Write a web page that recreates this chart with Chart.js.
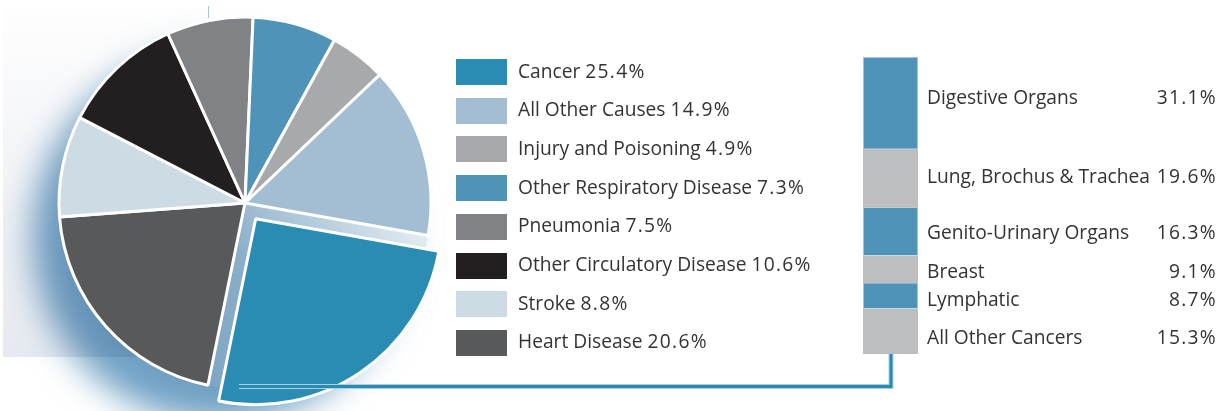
<!DOCTYPE html>
<html lang="en">
<head>
<meta charset="UTF-8">
<title>Causes of Death</title>
<script src="https://cdn.jsdelivr.net/npm/chart.js"></script>
<style>
    * { margin: 0; padding: 0; box-sizing: border-box; }
    body {
        width: 1224px;
        height: 411px;
        background: #fff;
        overflow: hidden;
        position: relative;
        font-family: 'Open Sans', sans-serif;
        color: #333;
    }
    #pieBox { position: absolute; left: 0; top: 0; width: 1224px; height: 411px; }
    #barBox { position: absolute; left: 863px; top: 57px; width: 55px; height: 297px; }
    .legend-row {
        position: absolute;
        left: 456px;
        height: 26px;
        display: flex;
        align-items: center;
        font-size: 19.2px;
        white-space: nowrap;
    }
    .legend-row .box { width: 51px; height: 26px; margin-right: 11px; flex: none; }
    .legend-row > span { position: relative; top: -2px; }
    .num { letter-spacing: 1.3px; }
    .sub-label {
        position: absolute;
        left: 927px;
        width: 290px;
        display: flex;
        justify-content: space-between;
        font-size: 19.2px;
        white-space: nowrap;
        transform: translateY(-50%);
    }
</style>
</head>
<body>
    <div id="pieBox"><canvas id="pieChart"></canvas></div>
    <div id="barBox"><canvas id="barChart"></canvas></div>
    <div id="legend"></div>
    <div id="subLabels"></div>

<script>
    // pie slices, clockwise from the bottom
    const causeLabels = ['Heart Disease', 'Stroke', 'Other Circulatory Disease', 'Pneumonia',
        'Other Respiratory Disease', 'Injury and Poisoning', 'All Other Causes', 'Cancer'];
    const causeValues = [20.6, 8.8, 10.6, 7.5, 7.3, 4.9, 14.9, 25.4];
    const causeColors = ['#58595b', '#cddbe5', '#231f20', '#808285', '#4f93b8', '#a7a9ac', '#a3bdd3', '#2a8cb2'];

    // cancer breakdown, top to bottom
    const cancerLabels = ['Digestive Organs', 'Lung, Brochus & Trachea', 'Genito-Urinary Organs',
        'Breast', 'Lymphatic', 'All Other Cancers'];
    const cancerValues = [31.1, 19.6, 16.3, 9.1, 8.7, 15.3];
    const cancerColors = ['#4f93b8', '#bcbec0', '#4f93b8', '#bcbec0', '#4f93b8', '#bcbec0'];

    const pieBackdrop = {
        id: 'pieBackdrop',
        beforeDatasetsDraw(chart) {
            const ctx = chart.ctx;
            const { x, y, outerRadius: r } = chart.getDatasetMeta(0).data[0];
            ctx.save();
            ctx.shadowColor = 'rgba(50,120,170,0.7)';
            ctx.shadowBlur = 34;
            ctx.shadowOffsetX = -26;
            ctx.shadowOffsetY = 34;
            const g = ctx.createLinearGradient(x - r, y + r, x + r, y - r * 0.3);
            g.addColorStop(0, '#6f9dc0');
            g.addColorStop(0.5, '#8aaec8');
            g.addColorStop(1, '#ffffff');
            ctx.fillStyle = g;
            ctx.beginPath();
            ctx.arc(x, y, r, 0, Math.PI * 2);
            ctx.fill();
            ctx.restore();

            // faint panel in the upper left
            ctx.save();
            ctx.globalCompositeOperation = 'multiply';
            const p = ctx.createLinearGradient(0, 7, 0, 357);
            p.addColorStop(0, '#fefefe');
            p.addColorStop(1, '#e6e9f0');
            ctx.fillStyle = p;
            ctx.fillRect(3, 7, 205, 350);
            ctx.restore();
            ctx.save();
            ctx.strokeStyle = '#a9c3d8';
            ctx.lineWidth = 1;
            ctx.beginPath();
            ctx.moveTo(208.5, 6);
            ctx.lineTo(208.5, 18);
            ctx.stroke();
            ctx.restore();
        }
    };

    const connector = {
        id: 'connector',
        afterDatasetsDraw(chart) {
            const ctx = chart.ctx;
            ctx.save();
            ctx.beginPath();
            ctx.moveTo(239, 386.5);
            ctx.lineTo(891, 386.5);
            ctx.lineTo(891, 354);
            ctx.strokeStyle = '#a8d0e2';
            ctx.lineWidth = 5;
            ctx.stroke();
            ctx.strokeStyle = '#2a8bb1';
            ctx.lineWidth = 3;
            ctx.stroke();
            ctx.restore();
        }
    };

    const pieChart = new Chart(document.getElementById('pieChart'), {
        type: 'pie',
        data: {
            labels: causeLabels,
            datasets: [{
                data: causeValues,
                backgroundColor: causeColors,
                borderColor: '#ffffff',
                borderWidth: 3,
                // arc offset is drawn at a quarter of this value
                offset: causeLabels.map(l => l === 'Cancer' ? 76 : 0)
            }]
        },
        options: {
            responsive: true,
            maintainAspectRatio: false,
            animation: false,
            events: [],
            rotation: 191.5,
            radius: 186,
            layout: { padding: { left: 0, top: 0, right: 734, bottom: 5 } },
            plugins: { legend: { display: false }, tooltip: { enabled: false } }
        },
        plugins: [pieBackdrop, connector]
    });

    const cancerTotal = cancerValues.reduce((a, b) => a + b, 0);
    const barChart = new Chart(document.getElementById('barChart'), {
        type: 'bar',
        data: {
            labels: ['Cancer'],
            datasets: cancerLabels.map((l, i) => ({
                label: l,
                data: [cancerValues[i]],
                backgroundColor: cancerColors[i],
                borderColor: cancerColors[i] === '#4f93b8' ? '#c6dae7' : '#bcbec0',
                borderWidth: 1,
                borderSkipped: false,
                barPercentage: 1,
                categoryPercentage: 1
            }))
        },
        options: {
            responsive: true,
            maintainAspectRatio: false,
            animation: false,
            events: [],
            layout: { padding: 0 },
            scales: {
                x: { stacked: true, display: false },
                y: { stacked: true, display: false, reverse: true, min: 0, max: cancerTotal }
            },
            plugins: { legend: { display: false }, tooltip: { enabled: false } }
        }
    });

    // legend, listed in the reverse of the pie order
    const legend = document.getElementById('legend');
    causeLabels.slice().reverse().forEach((label, i) => {
        const idx = causeLabels.length - 1 - i;
        const row = document.createElement('div');
        row.className = 'legend-row';
        row.style.top = (59 + i * 38.7) + 'px';
        row.innerHTML = '<div class="box" style="background:' + causeColors[idx] + '"></div><span>' +
            label + ' <span class="num">' + causeValues[idx].toFixed(1) + '%</span></span>';
        legend.appendChild(row);
    });

    // labels beside the stacked bar, spread a little around the bar's middle
    const subLabels = document.getElementById('subLabels');
    const barTop = document.getElementById('barBox').offsetTop;
    const yScale = barChart.scales.y;
    const barMid = (yScale.top + yScale.bottom) / 2;
    let cum = 0;
    cancerLabels.forEach((label, i) => {
        const mid = yScale.getPixelForValue(cum + cancerValues[i] / 2);
        cum += cancerValues[i];
        const div = document.createElement('div');
        div.className = 'sub-label';
        div.style.top = (barTop + barMid + (mid - barMid) * 1.05 - 2) + 'px';
        div.innerHTML = '<span>' + label + '</span><span class="num">' + cancerValues[i].toFixed(1) + '%</span>';
        subLabels.appendChild(div);
    });
</script>
</body>
</html>
